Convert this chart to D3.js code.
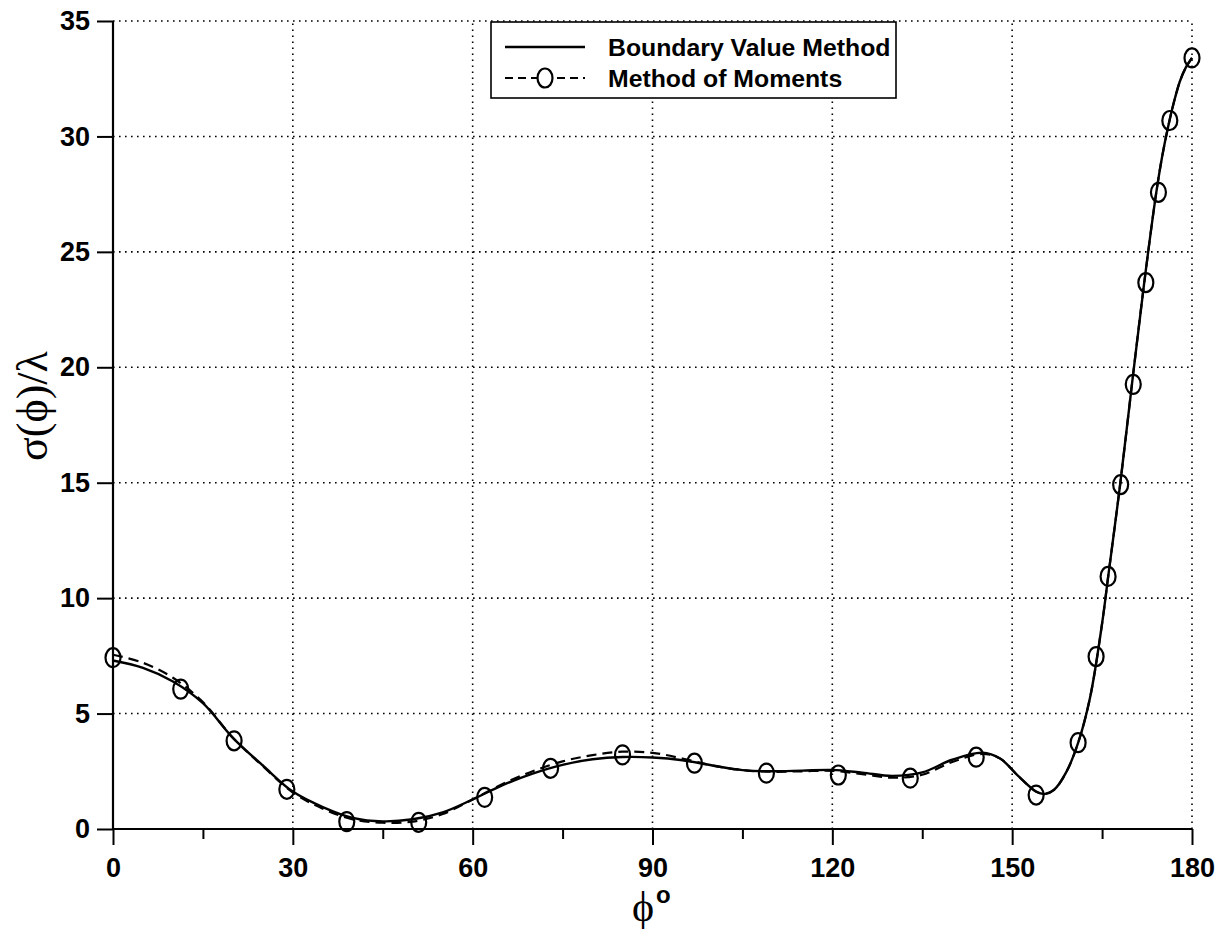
<!DOCTYPE html>
<html>
<head>
<meta charset="utf-8">
<script src="https://cdn.jsdelivr.net/npm/d3@7"></script>
<style>
  html, body { margin: 0; padding: 0; background: #fff; }
  svg { display: block; }
</style>
</head>
<body>
<svg id="chart" width="1222" height="929"></svg>
<script>
// Scattering width sigma(phi)/lambda versus observation angle phi (degrees)

// Boundary Value Method: smooth solid curve samples
const bvmAngle = [0, 5, 10, 15, 20, 25, 30, 35, 40, 45, 50, 55, 60, 65, 70, 75, 80, 85, 90, 95,
  100, 105, 110, 115, 120, 125, 130, 135, 140, 145, 148, 151, 154, 155.5, 157, 159, 161, 163,
  165, 166, 168, 170, 172, 174, 175, 176, 177, 178, 179, 180];
const bvmValue = [7.3, 6.98, 6.39, 5.45, 3.95, 2.75, 1.62, 0.95, 0.48, 0.33, 0.42, 0.72, 1.28, 1.9,
  2.4, 2.78, 3.02, 3.12, 3.1, 2.98, 2.75, 2.55, 2.5, 2.53, 2.56, 2.44, 2.3, 2.45, 3.0, 3.3, 3.05,
  2.3, 1.62, 1.52, 1.7, 2.45, 3.73, 5.7, 8.9, 10.9, 14.9, 19.3, 23.6, 27.5, 29.1, 30.4, 31.5,
  32.4, 33.0, 33.4];

// Method of Moments: dashed curve samples
const momAngle = [0, 5, 10, 15, 20, 25, 30, 35, 40, 45, 50, 55, 60, 65, 70, 75, 80, 85, 90, 95,
  100, 105, 110, 115, 120, 125, 130, 135, 140, 145, 148, 151, 154, 155.5, 157, 159, 161, 163,
  165, 166, 168, 170, 172, 174, 175, 176, 177, 178, 179, 180];
const momValue = [7.55, 7.2, 6.55, 5.5, 3.95, 2.72, 1.58, 0.88, 0.42, 0.27, 0.32, 0.65, 1.28, 1.95,
  2.5, 2.93, 3.2, 3.35, 3.3, 3.05, 2.75, 2.55, 2.48, 2.5, 2.52, 2.38, 2.22, 2.35, 2.9, 3.25, 3.05,
  2.3, 1.62, 1.52, 1.7, 2.45, 3.73, 5.7, 8.9, 10.9, 14.9, 19.3, 23.6, 27.5, 29.1, 30.4, 31.5,
  32.4, 33.0, 33.4];

// Method of Moments: plotted symbols
const markerAngle = [0, 11.3, 20.2, 29, 39, 51, 62, 73, 85, 97, 109, 121, 133, 144, 154, 161,
  164, 166, 168.1, 170.2, 172.3, 174.4, 176.3, 180];
const markerValue = [7.42, 6.06, 3.82, 1.72, 0.32, 0.29, 1.37, 2.63, 3.21, 2.85, 2.42, 2.34, 2.2,
  3.11, 1.47, 3.74, 7.47, 10.94, 14.92, 19.26, 23.67, 27.58, 30.69, 33.4];

const xTicks = [0, 30, 60, 90, 120, 150, 180];
const xMinorTicks = [15, 45, 75, 105, 135, 165];
const yTicks = [0, 5, 10, 15, 20, 25, 30, 35];
const seriesNames = ["Boundary Value Method", "Method of Moments"];

const svg = d3.select("#chart");
const plotLeft = 113, plotRight = 1192, plotTop = 21, plotBottom = 829;

const x = d3.scaleLinear().domain([0, 180]).range([plotLeft, plotRight]);
const y = d3.scaleLinear().domain([0, 35]).range([plotBottom, plotTop]);

const tickFont = "'Liberation Sans', Arial, Helvetica, sans-serif";

// dotted grid
const grid = svg.append("g").attr("stroke", "#000").attr("stroke-width", 1.6)
  .attr("stroke-dasharray", "1.6,4.4");
grid.selectAll("line.gx").data(xTicks.filter(d => d > 0)).join("line").attr("class", "gx")
  .attr("x1", d => x(d)).attr("x2", d => x(d)).attr("y1", plotBottom).attr("y2", plotTop);
grid.selectAll("line.gy").data(yTicks.filter(d => d > 0)).join("line").attr("class", "gy")
  .attr("y1", d => y(d)).attr("y2", d => y(d)).attr("x1", plotLeft).attr("x2", plotRight);

// axes
const xAxis = d3.axisBottom(x).tickValues(xTicks).tickSize(16).tickPadding(13).tickFormat(d3.format("d"));
const gx = svg.append("g").attr("transform", `translate(0,${plotBottom})`).call(xAxis);
const xMinor = d3.axisBottom(x).tickValues(xMinorTicks).tickSize(10).tickFormat("");
const gxm = svg.append("g").attr("transform", `translate(0,${plotBottom})`).call(xMinor);
gxm.select(".domain").remove();

const yAxis = d3.axisLeft(y).tickValues(yTicks).tickSize(16).tickPadding(7).tickFormat(d3.format("d"));
const gy = svg.append("g").attr("transform", `translate(${plotLeft},0)`).call(yAxis);

[gx, gy, gxm].forEach(g => {
  g.select(".domain").attr("stroke", "#000").attr("stroke-width", 2.2);
  g.selectAll(".tick line").attr("stroke", "#000").attr("stroke-width", 2);
  g.selectAll(".tick text").attr("fill", "#000")
    .style("font-family", tickFont).style("font-weight", "bold").style("font-size", "27px");
});
// axis lines run along the frame only
gx.select(".domain").attr("d", `M${plotLeft},0H${plotRight}`);
gy.select(".domain").attr("d", `M0,${plotBottom}V${plotTop}`);

// curves
const bvm = bvmAngle.map((a, i) => [a, bvmValue[i]]);
const mom = momAngle.map((a, i) => [a, momValue[i]]);
const marks = markerAngle.map((a, i) => [a, markerValue[i]]);

const line = d3.line().x(d => x(d[0])).y(d => y(d[1])).curve(d3.curveCatmullRom.alpha(0.5));

svg.append("path").datum(mom).attr("d", line)
  .attr("fill", "none").attr("stroke", "#000").attr("stroke-width", 2.2)
  .attr("stroke-dasharray", "10,6");
svg.append("path").datum(bvm).attr("d", line)
  .attr("fill", "none").attr("stroke", "#000").attr("stroke-width", 2.4);

svg.append("g").selectAll("ellipse").data(marks).join("ellipse")
  .attr("cx", d => x(d[0])).attr("cy", d => y(d[1]))
  .attr("rx", 7.5).attr("ry", 9.5)
  .attr("fill", "none").attr("stroke", "#000").attr("stroke-width", 2.2);

// legend
const lg = svg.append("g");
lg.append("rect").attr("x", 491).attr("y", 22).attr("width", 405).attr("height", 76)
  .attr("fill", "#fff").attr("stroke", "#000").attr("stroke-width", 1.6);
lg.append("line").attr("x1", 505).attr("x2", 585).attr("y1", 47).attr("y2", 47)
  .attr("stroke", "#000").attr("stroke-width", 2.4);
lg.append("line").attr("x1", 505).attr("x2", 585).attr("y1", 78).attr("y2", 78)
  .attr("stroke", "#000").attr("stroke-width", 2.2).attr("stroke-dasharray", "8,5");
lg.append("ellipse").attr("cx", 545).attr("cy", 78).attr("rx", 7.5).attr("ry", 9.5)
  .attr("fill", "#fff").attr("stroke", "#000").attr("stroke-width", 2.2);
lg.selectAll("text").data(seriesNames).join("text")
  .attr("x", 608).attr("y", (d, i) => 56 + i * 31)
  .style("font-family", tickFont).style("font-weight", "bold").style("font-size", "24.8px")
  .text(d => d);

// axis titles
svg.append("text")
  .attr("transform", "translate(47,406) rotate(-90)")
  .attr("text-anchor", "middle")
  .style("font-family", "'Liberation Serif', serif").style("font-size", "44px")
  .text("σ(ϕ)/λ");

const xt = svg.append("text").attr("x", 632).attr("y", 921)
  .style("font-family", "'Liberation Serif', serif").style("font-size", "42px");
xt.append("tspan").text("ϕ");
xt.append("tspan").attr("dx", 2).attr("dy", -18).style("font-family", tickFont).style("font-weight", "bold")
  .style("font-size", "24px").text("o");
</script>
</body>
</html>
